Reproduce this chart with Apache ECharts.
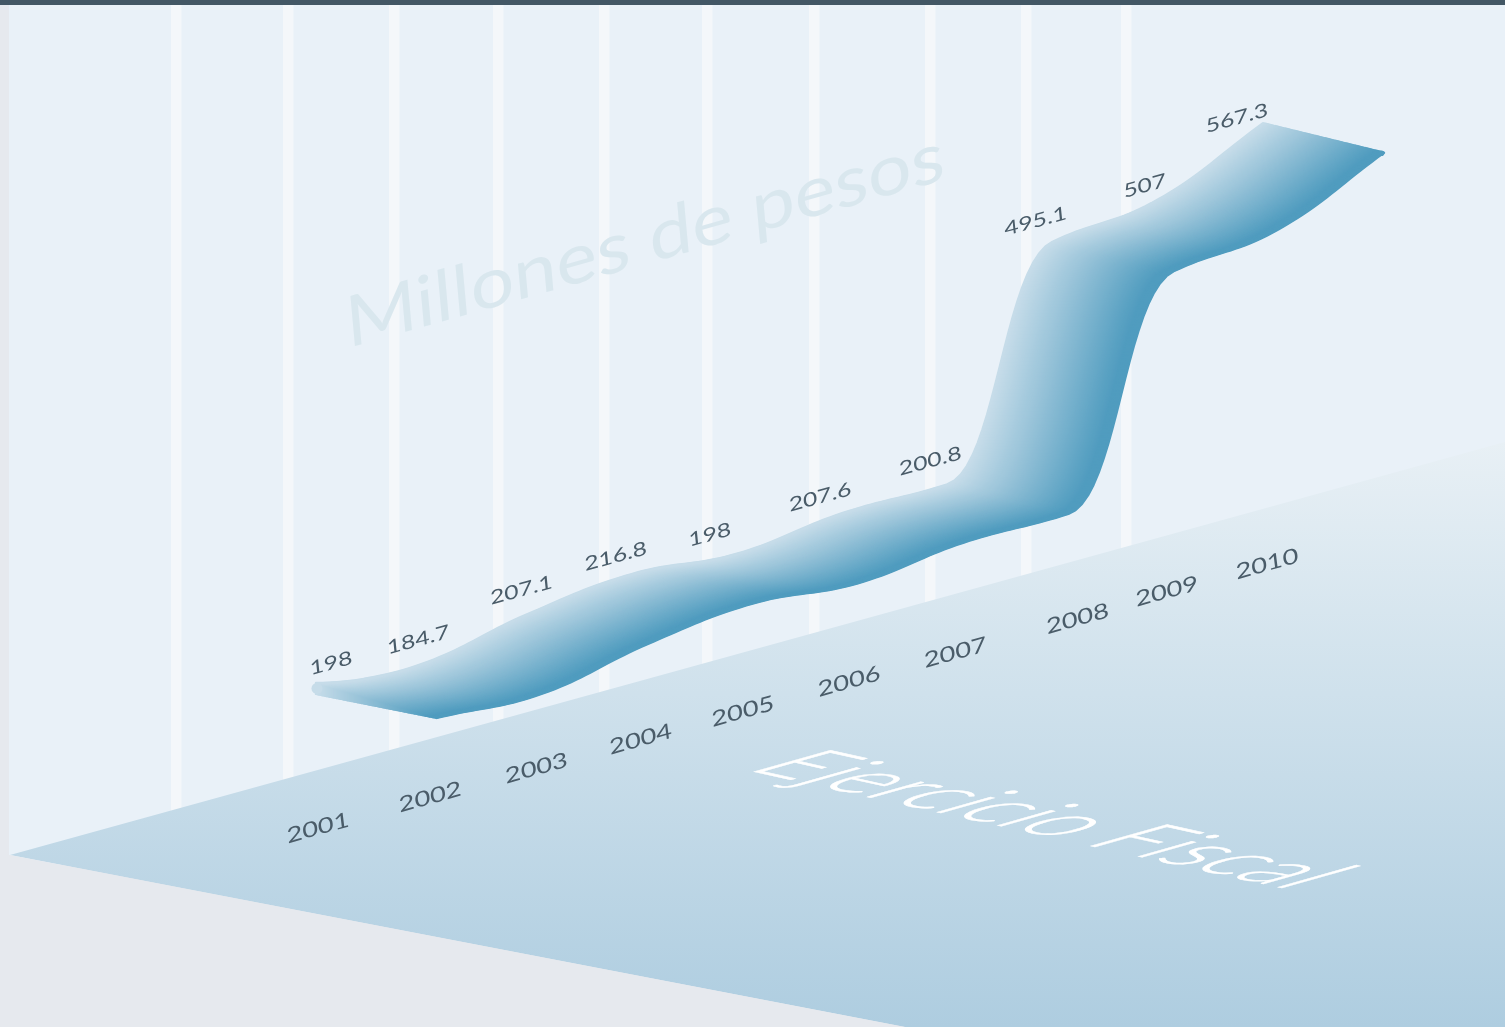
<!DOCTYPE html>
<html><head><meta charset="utf-8">
<style>html,body{margin:0;padding:0;background:#e6e9ee;overflow:hidden}#c{width:1505px;height:1027px}</style>
<script src="https://cdn.jsdelivr.net/npm/echarts@6/dist/echarts.min.js"></script>
</head><body><div id="c"></div>
<script>
// ---- data ----
const categories = ['2001','2002','2003','2004','2005','2006','2007','2008','2009','2010'];
const values = [198,184.7,207.1,216.8,198,207.6,200.8,495.1,507,567.3];
const yAxisTitle = 'Millones de pesos';
const xAxisTitle = 'Ejercicio Fiscal';

// ---- layout / style (not data) ----
const GRID = {left:316, width:947, top:403, height:426};
const SHEAR = 0.32;               // perspective rise of the ribbon, px per px
const LABEL_SHEAR = 0.322;        // perspective rise of the label rows
const DEPTH = [121, 29.5];        // ribbon depth vector
const STRIPS = 130;
const ARM = 0.42;                 // bezier handle length, share of a category step
const ARM_STEEP = 0.47;           // handle length where the ribbon climbs sharply
const TIP = 5.5;                  // half thickness of the rounded left tip
const STRIPE_X = [171,283,389,493,599,702,809,925,1021,1121];
const VALUE_NUDGE = [[15,-25],[-3,-24],[-5,-24],[-16,-17],[-27,-18],[-22,-15],[-17,-22],[-17,-19],[-13,-12],[-26,-3]];
const YEAR_NUDGE = [[2,-1],[9,2],[10,7],[9,12],[6,18],[7,22],[8,27],[25,27],[9,33.5],[4,40]];
const C_LIGHT=[198,220,233], C_DARK=[80,156,191];

function shadeAt(t){
  const k=Math.min(1,t/0.92);
  return 'rgb('+C_LIGHT.map((c,i)=>Math.round(c+(C_DARK[i]-c)*k)).join(',')+')';
}
// any 2x2 linear map as nested rotate / scale / rotate groups
function affineText(text,cx,cy,xv,yv,font,fill,z,strokeW){
  const a=xv[0],c=yv[0],b=xv[1],d=yv[1];
  const E=(a+d)/2,F=(a-d)/2,G=(b+c)/2,H=(b-c)/2;
  const Q=Math.hypot(E,H),R=Math.hypot(F,G);
  const a1=Math.atan2(G,F),a2=Math.atan2(H,E);
  const th=(a2-a1)/2,ph=(a2+a1)/2;
  const style={text:text,font:font,fill:fill,align:'center',verticalAlign:'middle'};
  if(strokeW){style.stroke=fill;style.lineWidth=strokeW;}
  return {type:'group',x:cx,y:cy,rotation:-ph,z:z,children:[
    {type:'group',scaleX:Q+R,scaleY:Q-R,children:[
      {type:'text',rotation:-th,z:z,style:style}
    ]}
  ]};
}
function skew(p,k){return [p[0],p[1]-(p[0]-GRID.left)*(k===undefined?SHEAR:k)];}

function ribbonItem(params,api){
  if(params.dataIndex!==0) return null;
  const raw=values.map((v,i)=>api.coord([i,v]));
  const n=raw.length, h=raw[1][0]-raw[0][0];
  const sec=[]; for(let i=0;i<n-1;i++) sec.push((raw[i+1][1]-raw[i][1])/h);
  const m=[];
  for(let i=0;i<n;i++){
    if(i===0){m.push(sec[0]*0.8);continue;}
    if(i===n-1){m.push(sec[n-2]);continue;}
    const a=sec[i-1],b=sec[i];
    const ratio=Math.max(Math.abs(a),Math.abs(b))/Math.max(1e-6,Math.min(Math.abs(a),Math.abs(b)));
    if(ratio>8) m.push(a*b>0?2*a*b/(a+b):0);
    else m.push((a+b)/2);
  }
  // the smooth edge of the ribbon, traced through the scaled data points
  const edge=[];
  const STEPS=20;
  for(let i=0;i<n-1;i++){
    const arm=Math.abs(sec[i])>1?ARM_STEEP:ARM;
    const x0=raw[i][0],y0=raw[i][1],x3=raw[i+1][0],y3=raw[i+1][1];
    const x1=x0+arm*h,y1=y0+m[i]*arm*h,x2=x3-arm*h,y2=y3-m[i+1]*arm*h;
    for(let s=(i===0?0:1);s<=STEPS;s++){
      const u=s/STEPS,v=1-u;
      const bx=v*v*v*x0+3*v*v*u*x1+3*v*u*u*x2+u*u*u*x3;
      const by=v*v*v*y0+3*v*v*u*y1+3*v*u*u*y2+u*u*u*y3;
      edge.push(skew([bx,by]));
    }
  }
  const first=edge[0], last=edge[edge.length-1];
  const kids=[];
  for(let k=STRIPS;k>=0;k--){
    const t=k/STRIPS;
    const ox=DEPTH[0]*t, oy=DEPTH[1]*t;
    const pts=edge.map(p=>{
      const d=Math.max(0,1-(p[0]-first[0])/45);
      return [p[0]+ox,p[1]+oy-TIP*d*d*(1-t)];
    });
    pts.unshift([first[0]+ox,first[1]+oy+TIP*(1-t)]);
    kids.push({type:'polyline',shape:{points:pts},
      style:{fill:null,stroke:shadeAt(t),lineWidth:2.4,lineCap:'round',lineJoin:'round'}});
  }
  kids.push({type:'circle',shape:{cx:first[0]+1,cy:first[1],r:TIP},style:{fill:shadeAt(0)}});
  kids.push({type:'circle',shape:{cx:last[0]+DEPTH[0]-2.5,cy:last[1]+DEPTH[1]+0.5,r:2.8},style:{fill:shadeAt(1)}});
  return {type:'group',children:kids};
}
function labelItem(params,api){
  const i=params.dataIndex;
  const p=skew(api.coord([i,values[i]]),LABEL_SHEAR);
  const q=skew(api.coord([i,0]),LABEL_SHEAR);
  const col='#4a5c69';
  return {type:'group',children:[
    affineText(String(values[i]),p[0]+VALUE_NUDGE[i][0],p[1]+VALUE_NUDGE[i][1],[1.28,-0.35],[0.1,1],'400 19px Lato',col,5),
    affineText(categories[i],q[0]+YEAR_NUDGE[i][0],q[1]+YEAR_NUDGE[i][1],[1.28,-0.355],[0.12,1],'400 21px Lato',col,5)
  ]};
}

const stripes = STRIPE_X.map(x=>({type:'rect',z:1,shape:{x:x,y:5,width:10.5,height:860},style:{fill:'#f4f7fa'}}));
const chart=echarts.init(document.getElementById('c'),null,{renderer:'canvas',width:1505,height:1027});
chart.setOption({
  animation:false,
  backgroundColor:'#e6e9ee',
  grid:{left:GRID.left,top:GRID.top,width:GRID.width,height:GRID.height},
  xAxis:{type:'category',data:categories,boundaryGap:false,show:false},
  yAxis:{type:'value',min:0,max:600,show:false},
  graphic:{elements:[
    {type:'rect',z:0,shape:{x:0,y:0,width:1505,height:5},style:{fill:'#435765'}},
    {type:'rect',z:0,shape:{x:9,y:5,width:1496,height:860},style:{fill:'#e9f1f8'}},
    ...stripes,
    affineText(yAxisTitle,645,241,[1.09,-0.308],[0.09,1],'400 70px Lato','#d9e7ee',2),
    {type:'polygon',z:3,shape:{points:[[10,855],[1505,442],[1505,1027],[905,1027]]},
      style:{fill:new echarts.graphic.LinearGradient(0,0,0,1,[{offset:0,color:'#e8f0f5'},{offset:1,color:'#aecde0'}])}},
    {type:'polygon',z:3,shape:{points:[[0,1027],[905,1027],[10,855],[0,855]]},style:{fill:'#e6e9ee'}},
    affineText(xAxisTitle,1052,820,[2.18,0.48],[-2.7,0.76],'300 40px Lato','#ffffff',4,0.35)
  ]},
  series:[
    {type:'custom',name:'ribbon',coordinateSystem:'cartesian2d',z:6,silent:true,clip:false,
     data:values.map((v,i)=>[i,v]),encode:{x:0,y:1},renderItem:ribbonItem},
    {type:'custom',name:'labels',coordinateSystem:'cartesian2d',z:7,silent:true,clip:false,
     data:values.map((v,i)=>[i,v]),encode:{x:0,y:1},renderItem:labelItem}
  ]
});
</script></body></html>
